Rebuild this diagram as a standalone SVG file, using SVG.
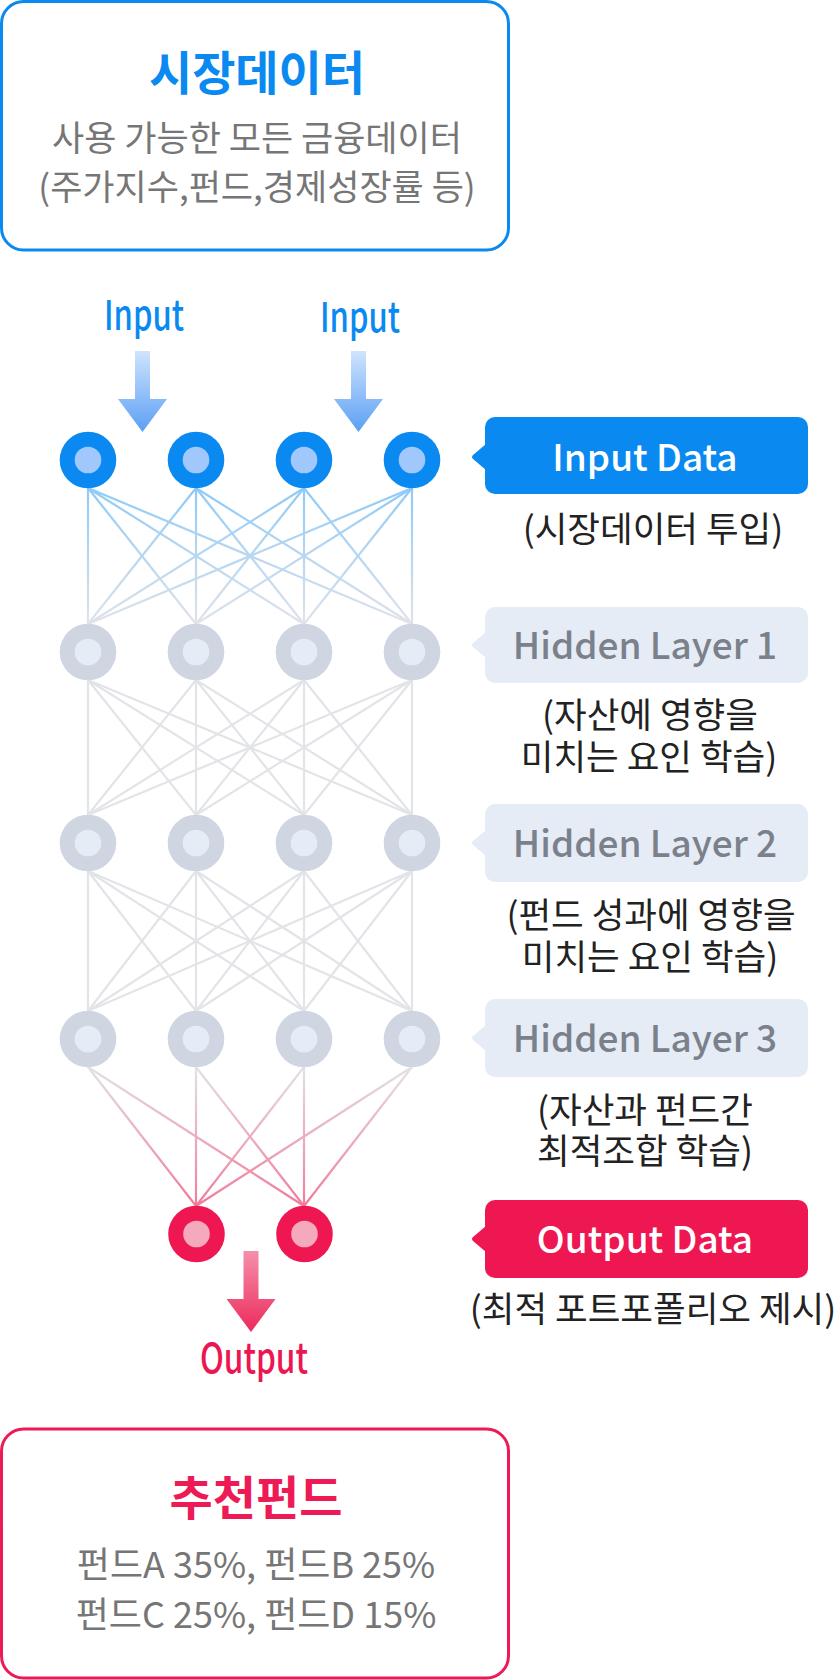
<svg xmlns="http://www.w3.org/2000/svg" width="840" height="1680" viewBox="0 0 840 1680">
<defs>
<style>
text{font-family:"Noto Sans CJK KR","Noto Sans",sans-serif;text-anchor:middle}
.ttl{font-size:47px;font-weight:700}
.sub{font-size:35px;fill:#767676}
.num{font-size:36px;fill:#767676}
.cap{font-size:35.5px;fill:#222}
.lbl{font-size:37px;font-weight:500}
.io{font-size:41px;font-weight:500}
.c01{stroke:url(#g01);stroke-width:2.2}
.cgr{stroke:#e2e4e8;stroke-width:2.2}
.c34{stroke:url(#g34);stroke-width:2.2}
.inO{fill:#0a8af0}.inI{fill:#a1c8fc}
.hdO{fill:#cfd6e1}.hdI{fill:#e6ecf6}
.otO{fill:#ee1752}.otI{fill:#f4a9bd}
</style>
<linearGradient id="g01" gradientUnits="userSpaceOnUse" x1="0" y1="488" x2="0" y2="624"><stop offset="0" stop-color="#8ecaf7"/><stop offset="1" stop-color="#e0e3ea"/></linearGradient>
<linearGradient id="g34" gradientUnits="userSpaceOnUse" x1="0" y1="1067" x2="0" y2="1206"><stop offset="0" stop-color="#e2e2e6"/><stop offset="1" stop-color="#f27a9a"/></linearGradient>
<linearGradient id="gin" x1="0" y1="0" x2="0" y2="1"><stop offset="0" stop-color="#cfe4fd"/><stop offset="1" stop-color="#5b9ff4"/></linearGradient>
<linearGradient id="gout" x1="0" y1="0" x2="0" y2="1"><stop offset="0" stop-color="#f590aa"/><stop offset="1" stop-color="#ec2a5c"/></linearGradient>
</defs>

<g id="market-data">
<rect x="1.5" y="1.5" width="507" height="248.5" rx="22" fill="#fff" stroke="#0a8af0" stroke-width="3"/>
<text class="ttl" x="257" y="90" fill="#0a8af0">시장데이터</text>
<text class="sub" x="257" y="151">사용 가능한 모든 금융데이터</text>
<text class="sub" x="257" y="200">(주가지수,펀드,경제성장률 등)</text>
</g>

<g id="input-arrows">
<text class="io" x="144" y="330" fill="#0a8af0" textLength="80" lengthAdjust="spacingAndGlyphs">Input</text>
<text class="io" x="360" y="332" fill="#0a8af0" textLength="80" lengthAdjust="spacingAndGlyphs">Input</text>
<path d="M135,351 H150 V399 H167 L142.5,432 L118,399 H135 Z" fill="url(#gin)"/>
<path d="M351,351 H366 V399 H383 L358.5,432 L334,399 H351 Z" fill="url(#gin)"/>
</g>

<g id="connectors">
<g class="c01">
<line x1="88" y1="488" x2="88" y2="624"/><line x1="88" y1="488" x2="196" y2="624"/><line x1="88" y1="488" x2="304" y2="624"/><line x1="88" y1="488" x2="412" y2="624"/>
<line x1="196" y1="488" x2="88" y2="624"/><line x1="196" y1="488" x2="196" y2="624"/><line x1="196" y1="488" x2="304" y2="624"/><line x1="196" y1="488" x2="412" y2="624"/>
<line x1="304" y1="488" x2="88" y2="624"/><line x1="304" y1="488" x2="196" y2="624"/><line x1="304" y1="488" x2="304" y2="624"/><line x1="304" y1="488" x2="412" y2="624"/>
<line x1="412" y1="488" x2="88" y2="624"/><line x1="412" y1="488" x2="196" y2="624"/><line x1="412" y1="488" x2="304" y2="624"/><line x1="412" y1="488" x2="412" y2="624"/>
</g>
<g class="cgr">
<line x1="88" y1="680" x2="88" y2="815"/><line x1="88" y1="680" x2="196" y2="815"/><line x1="88" y1="680" x2="304" y2="815"/><line x1="88" y1="680" x2="412" y2="815"/>
<line x1="196" y1="680" x2="88" y2="815"/><line x1="196" y1="680" x2="196" y2="815"/><line x1="196" y1="680" x2="304" y2="815"/><line x1="196" y1="680" x2="412" y2="815"/>
<line x1="304" y1="680" x2="88" y2="815"/><line x1="304" y1="680" x2="196" y2="815"/><line x1="304" y1="680" x2="304" y2="815"/><line x1="304" y1="680" x2="412" y2="815"/>
<line x1="412" y1="680" x2="88" y2="815"/><line x1="412" y1="680" x2="196" y2="815"/><line x1="412" y1="680" x2="304" y2="815"/><line x1="412" y1="680" x2="412" y2="815"/>
<line x1="88" y1="871" x2="88" y2="1011"/><line x1="88" y1="871" x2="196" y2="1011"/><line x1="88" y1="871" x2="304" y2="1011"/><line x1="88" y1="871" x2="412" y2="1011"/>
<line x1="196" y1="871" x2="88" y2="1011"/><line x1="196" y1="871" x2="196" y2="1011"/><line x1="196" y1="871" x2="304" y2="1011"/><line x1="196" y1="871" x2="412" y2="1011"/>
<line x1="304" y1="871" x2="88" y2="1011"/><line x1="304" y1="871" x2="196" y2="1011"/><line x1="304" y1="871" x2="304" y2="1011"/><line x1="304" y1="871" x2="412" y2="1011"/>
<line x1="412" y1="871" x2="88" y2="1011"/><line x1="412" y1="871" x2="196" y2="1011"/><line x1="412" y1="871" x2="304" y2="1011"/><line x1="412" y1="871" x2="412" y2="1011"/>
</g>
<g class="c34">
<line x1="88" y1="1067" x2="196" y2="1206"/><line x1="88" y1="1067" x2="304" y2="1206"/>
<line x1="196" y1="1067" x2="196" y2="1206"/><line x1="196" y1="1067" x2="304" y2="1206"/>
<line x1="304" y1="1067" x2="196" y2="1206"/><line x1="304" y1="1067" x2="304" y2="1206"/>
<line x1="412" y1="1067" x2="196" y2="1206"/><line x1="412" y1="1067" x2="304" y2="1206"/>
</g>
</g>

<g id="input-layer">
<circle class="inO" cx="88" cy="460" r="28.3"/><circle class="inI" cx="88" cy="460" r="13.3"/>
<circle class="inO" cx="196" cy="460" r="28.3"/><circle class="inI" cx="196" cy="460" r="13.3"/>
<circle class="inO" cx="304" cy="460" r="28.3"/><circle class="inI" cx="304" cy="460" r="13.3"/>
<circle class="inO" cx="412" cy="460" r="28.3"/><circle class="inI" cx="412" cy="460" r="13.3"/>
</g>
<g id="hidden-layer-1">
<circle class="hdO" cx="88" cy="652" r="28.3"/><circle class="hdI" cx="88" cy="652" r="13.3"/>
<circle class="hdO" cx="196" cy="652" r="28.3"/><circle class="hdI" cx="196" cy="652" r="13.3"/>
<circle class="hdO" cx="304" cy="652" r="28.3"/><circle class="hdI" cx="304" cy="652" r="13.3"/>
<circle class="hdO" cx="412" cy="652" r="28.3"/><circle class="hdI" cx="412" cy="652" r="13.3"/>
</g>
<g id="hidden-layer-2">
<circle class="hdO" cx="88" cy="843" r="28.3"/><circle class="hdI" cx="88" cy="843" r="13.3"/>
<circle class="hdO" cx="196" cy="843" r="28.3"/><circle class="hdI" cx="196" cy="843" r="13.3"/>
<circle class="hdO" cx="304" cy="843" r="28.3"/><circle class="hdI" cx="304" cy="843" r="13.3"/>
<circle class="hdO" cx="412" cy="843" r="28.3"/><circle class="hdI" cx="412" cy="843" r="13.3"/>
</g>
<g id="hidden-layer-3">
<circle class="hdO" cx="88" cy="1039" r="28.3"/><circle class="hdI" cx="88" cy="1039" r="13.3"/>
<circle class="hdO" cx="196" cy="1039" r="28.3"/><circle class="hdI" cx="196" cy="1039" r="13.3"/>
<circle class="hdO" cx="304" cy="1039" r="28.3"/><circle class="hdI" cx="304" cy="1039" r="13.3"/>
<circle class="hdO" cx="412" cy="1039" r="28.3"/><circle class="hdI" cx="412" cy="1039" r="13.3"/>
</g>
<g id="output-layer">
<circle class="otO" cx="196.5" cy="1234" r="28.3"/><circle class="otI" cx="196.5" cy="1234" r="13.3"/>
<circle class="otO" cx="304.5" cy="1234" r="28.3"/><circle class="otI" cx="304.5" cy="1234" r="13.3"/>
</g>

<g id="output-arrow">
<path d="M243.5,1251 H258.5 V1299 H275.5 L251,1332 L226.5,1299 H243.5 Z" fill="url(#gout)"/>
<text class="io" x="254" y="1373" fill="#ec1651" textLength="108" lengthAdjust="spacingAndGlyphs">Output</text>
</g>

<g id="label-input">
<rect x="485" y="417" width="323" height="77" rx="10" fill="#0a8af0"/>
<path d="M486,444 L473,455 Q471,457 473,459 L486,470 Z" fill="#0a8af0"/>
<text class="lbl" x="645" y="471" fill="#fff">Input Data</text>
<text class="cap" x="653" y="542">(시장데이터 투입)</text>
</g>
<g id="label-hidden-1">
<rect x="485" y="607" width="323" height="76" rx="10" fill="#e6ecf6"/>
<path d="M486,632 L473,643 Q471,645 473,647 L486,658 Z" fill="#e6ecf6"/>
<text class="lbl" x="645" y="659" fill="#7b818b">Hidden Layer 1</text>
<text class="cap" x="650" y="728">(자산에 영향을</text>
<text class="cap" x="649" y="770">미치는 요인 학습)</text>
</g>
<g id="label-hidden-2">
<rect x="485" y="804" width="323" height="78" rx="10" fill="#e6ecf6"/>
<path d="M486,830 L473,841 Q471,843 473,845 L486,856 Z" fill="#e6ecf6"/>
<text class="lbl" x="645" y="857" fill="#7b818b">Hidden Layer 2</text>
<text class="cap" x="651" y="928">(펀드 성과에 영향을</text>
<text class="cap" x="650" y="970">미치는 요인 학습)</text>
</g>
<g id="label-hidden-3">
<rect x="485" y="999" width="323" height="78" rx="10" fill="#e6ecf6"/>
<path d="M486,1025 L473,1036 Q471,1038 473,1040 L486,1051 Z" fill="#e6ecf6"/>
<text class="lbl" x="645" y="1052" fill="#7b818b">Hidden Layer 3</text>
<text class="cap" x="645" y="1123">(자산과 펀드간</text>
<text class="cap" x="645" y="1164">최적조합 학습)</text>
</g>
<g id="label-output">
<rect x="485" y="1200" width="323" height="78" rx="10" fill="#ee1752"/>
<path d="M486,1226 L473,1237 Q471,1239 473,1241 L486,1252 Z" fill="#ee1752"/>
<text class="lbl" x="645" y="1253" fill="#fff">Output Data</text>
<text class="cap" x="653" y="1322">(최적 포트포폴리오 제시)</text>
</g>

<g id="recommended-funds">
<rect x="1.5" y="1429" width="507" height="249" rx="22" fill="#fff" stroke="#ee1a55" stroke-width="3"/>
<text class="ttl" x="256" y="1515" fill="#ee1a55">추천펀드</text>
<text class="num" x="256" y="1578">펀드A 35%, 펀드B 25%</text>
<text class="num" x="256" y="1628">펀드C 25%, 펀드D 15%</text>
</g>
</svg>
